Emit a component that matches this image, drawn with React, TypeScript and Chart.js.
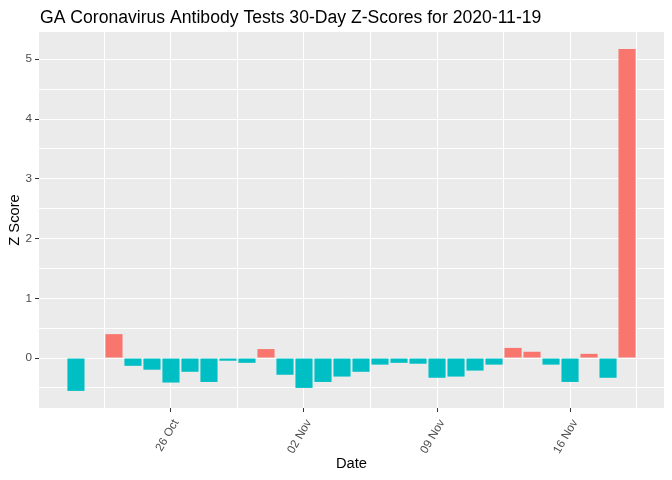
import React, { useEffect, useRef } from "react";
import { Chart, registerables } from "chart.js";

Chart.register(...registerables);

const titleText = "GA Coronavirus Antibody Tests 30-Day Z-Scores for 2020-11-19";
const xTitle = "Date";
const yTitle = "Z Score";

const dates = [
  "2020-10-21", "2020-10-23", "2020-10-24", "2020-10-25", "2020-10-26",
  "2020-10-27", "2020-10-28", "2020-10-29", "2020-10-30", "2020-10-31",
  "2020-11-01", "2020-11-02", "2020-11-03", "2020-11-04", "2020-11-05",
  "2020-11-06", "2020-11-07", "2020-11-08", "2020-11-09", "2020-11-10",
  "2020-11-11", "2020-11-12", "2020-11-13", "2020-11-14", "2020-11-15",
  "2020-11-16", "2020-11-17", "2020-11-18", "2020-11-19",
];

const zScores = [
  -0.55, 0.4, -0.13, -0.195, -0.41,
  -0.23, -0.4, -0.045, -0.08, 0.15,
  -0.28, -0.5, -0.4, -0.31, -0.23,
  -0.11, -0.08, -0.095, -0.33, -0.31,
  -0.21, -0.11, 0.17, 0.105, -0.11,
  -0.4, 0.07, -0.33, 5.17,
];

const tickDates = ["2020-10-26", "2020-11-02", "2020-11-09", "2020-11-16"];
const tickLabels = ["26 Oct", "02 Nov", "09 Nov", "16 Nov"];
const yTickValues = [0, 1, 2, 3, 4, 5];

const POS_COLOR = "#F8766D";
const NEG_COLOR = "#00BFC4";
const FONT = "'Liberation Sans', Arial, sans-serif";

const DAY = 86400000;
const refTime = Date.parse(tickDates[0] + "T00:00:00Z");
const toDay = (d: string) => (Date.parse(d + "T00:00:00Z") - refTime) / DAY;

export default function App() {
  const canvasRef = useRef<HTMLCanvasElement | null>(null);

  useEffect(() => {
    const canvas = canvasRef.current;
    if (!canvas) return;

    const xs = dates.map(toDay);
    const majorX = tickDates.map(toDay);
    const xLo = Math.min(...xs) - 0.45;
    const xHi = Math.max(...xs) + 0.45;
    const xPad = (xHi - xLo) * 0.05;
    const xMin = xLo - xPad;
    const xMax = xHi + xPad;
    const stepX = majorX[1] - majorX[0];
    const xTickVals: number[] = [];
    for (let v = majorX[0] - stepX / 2; v <= xMax; v += stepX / 2) {
      if (v >= xMin) xTickVals.push(v);
    }

    const yLo = Math.min(0, ...zScores);
    const yHi = Math.max(0, ...zScores);
    const yPad = (yHi - yLo) * 0.05;
    const yMin = yLo - yPad;
    const yMax = yHi + yPad;
    const yStep = yTickValues[1] - yTickValues[0];
    const yTickVals: number[] = [];
    for (let v = yTickValues[0] - yStep * 10; v <= yMax; v += yStep / 2) {
      if (v >= yMin) yTickVals.push(Math.round(v * 1000) / 1000);
    }

    const isMajorX = (v: number) => majorX.some((m) => Math.abs(m - v) < 1e-6);
    const isMajorY = (v: number) => yTickValues.some((m) => Math.abs(m - v) < 1e-6);

    const panelBg = {
      id: "panelBg",
      beforeDraw(chart: any) {
        const { ctx, chartArea } = chart;
        ctx.save();
        ctx.fillStyle = "#EBEBEB";
        ctx.fillRect(chartArea.left, chartArea.top, chartArea.right - chartArea.left, chartArea.bottom - chartArea.top);
        ctx.restore();
      },
    };

    const mainTitle = {
      id: "mainTitle",
      afterDraw(chart: any) {
        const { ctx, chartArea } = chart;
        ctx.save();
        ctx.font = `17.6px ${FONT}`;
        ctx.fillStyle = "#000000";
        ctx.textAlign = "left";
        ctx.textBaseline = "alphabetic";
        ctx.fillText(titleText, chartArea.left + 1, 22.5);
        ctx.restore();
      },
    };

    const chart = new Chart(canvas, {
      type: "bar",
      data: {
        datasets: [
          {
            label: "Z Score",
            data: dates.map((d, i) => ({ x: toDay(d), y: zScores[i] })),
            backgroundColor: zScores.map((z) => (z > 0 ? POS_COLOR : NEG_COLOR)),
            borderWidth: 0,
            barPercentage: 0.9,
            categoryPercentage: 1,
          },
        ],
      },
      options: {
        animation: false,
        responsive: false,
        layout: { padding: { top: 32, right: 8, left: 0, bottom: 0 } },
        plugins: {
          legend: { display: false },
          tooltip: { enabled: false },
          title: { display: false },
        },
        scales: {
          x: {
            type: "linear",
            min: xMin,
            max: xMax,
            offset: false,
            afterBuildTicks: (scale: any) => {
              scale.ticks = xTickVals.map((v) => ({ value: v }));
            },
            afterFit: (scale: any) => {
              scale.height = 72;
            },
            ticks: {
              autoSkip: false,
              minRotation: 60,
              maxRotation: 60,
              padding: 5,
              labelOffset: 5,
              color: "#4D4D4D",
              font: { family: FONT, size: 11.7 },
              callback: (value: any) => {
                const idx = majorX.findIndex((m) => Math.abs(m - Number(value)) < 1e-6);
                return idx >= 0 ? tickLabels[idx] : "";
              },
            },
            grid: {
              offset: false,
              color: "#FFFFFF",
              lineWidth: 1,
              drawTicks: true,
              tickLength: 4,
              tickWidth: 1,
              tickColor: (ctx: any) => (ctx.tick && isMajorX(ctx.tick.value) ? "#333333" : "rgba(0,0,0,0)"),
            },
            border: { display: false },
            title: {
              display: true,
              text: xTitle,
              color: "#000000",
              font: { family: FONT, size: 14.7 },
              padding: { top: 0, bottom: 7 },
            },
          },
          y: {
            type: "linear",
            min: yMin,
            max: yMax,
            afterBuildTicks: (scale: any) => {
              scale.ticks = yTickVals.map((v) => ({ value: v }));
            },
            afterFit: (scale: any) => {
              scale.width = 39;
            },
            ticks: {
              padding: 3,
              color: "#4D4D4D",
              font: { family: FONT, size: 11.7 },
              callback: (value: any) => (isMajorY(Number(value)) ? String(Number(value)) : ""),
            },
            grid: {
              color: "#FFFFFF",
              lineWidth: 1,
              drawTicks: true,
              tickLength: 4,
              tickWidth: 1,
              tickColor: (ctx: any) => (ctx.tick && isMajorY(ctx.tick.value) ? "#333333" : "rgba(0,0,0,0)"),
            },
            border: { display: false },
            title: {
              display: true,
              text: yTitle,
              color: "#000000",
              font: { family: FONT, size: 14.7 },
              padding: { top: 6, bottom: 0 },
            },
          },
        },
      },
      plugins: [panelBg, mainTitle],
    });

    return () => chart.destroy();
  }, []);

  return (
    <div style={{ position: "fixed", left: 0, top: 0, width: 672, height: 480, background: "#FFFFFF" }}>
      <canvas ref={canvasRef} width={672} height={480} />
    </div>
  );
}
